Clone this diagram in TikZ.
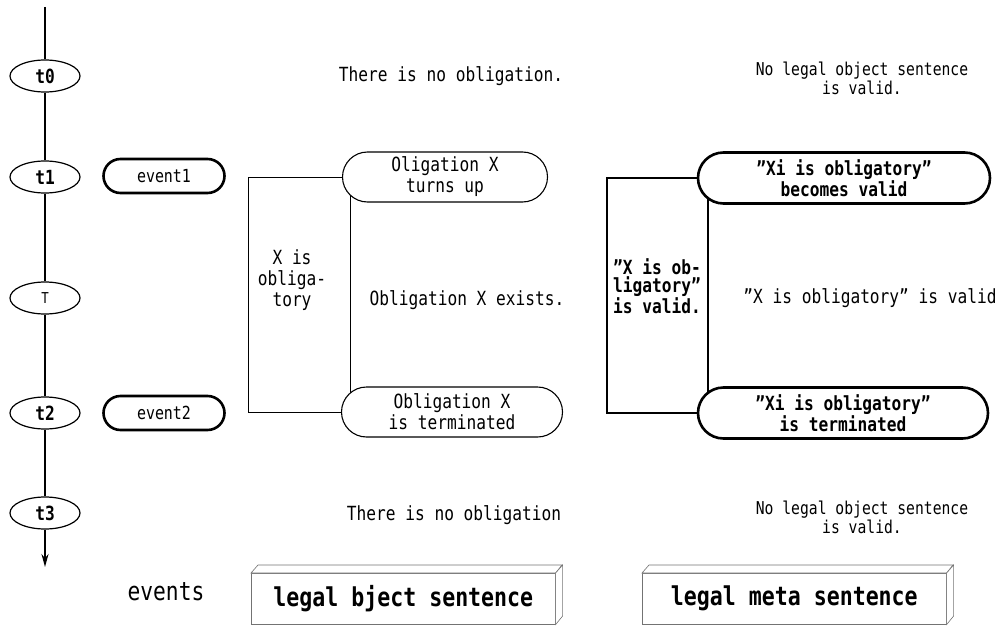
\documentclass[tikz,border=0pt]{standalone}
\usepackage{fontspec}
\setmainfont{DejaVu Sans Mono}[FakeStretch=0.83]
\usetikzlibrary{shapes.geometric,shapes.misc,arrows.meta}

\begin{document}
\begin{tikzpicture}[x=1pt,y=-1pt,
  every node/.style={inner sep=0pt},
  tick/.style={ellipse, draw, line width=1.2pt, fill=white,
    minimum width=70pt, minimum height=32pt,
    font=\fontsize{19.5}{20}\selectfont\bfseries},
  tickplain/.style={tick, font=\fontsize{15}{16}\selectfont},
  axis/.style={line width=1.8pt},
  eventpill/.style={rounded rectangle, draw, line width=2.6pt,
    minimum width=121pt, minimum height=34pt,
    font=\fontsize{18}{18}\selectfont},
  objpill/.style={rounded rectangle, draw, line width=1.1pt, fill=white,
    minimum height=50pt, align=center,
    font=\fontsize{19.5}{21}\selectfont},
  metapill/.style={rounded rectangle, draw, line width=2.6pt, fill=white,
    minimum height=51pt, align=center,
    font=\fontsize{19.5}{18.5}\selectfont\bfseries},
  plainlabel/.style={align=center, font=\fontsize{19.5}{21}\selectfont},
  smalllabel/.style={align=center, font=\fontsize{17.7}{19}\selectfont},
  boldlabel/.style={align=center, font=\fontsize{19.5}{18}\selectfont\bfseries},
  boxfront/.style={draw=black!55, line width=0.6pt, fill=white,
    minimum width=304pt, minimum height=51pt, anchor=north west,
    font=\fontsize{26}{26}\selectfont\bfseries},
  boxface/.style={draw=black!55, line width=0.6pt, fill=white}
]
\useasboundingbox (0,0) rectangle (1001,626);

% time axis
\node[tick] (t0) at (45,76) {t0};
\node[tick] (t1) at (45,177) {t1};
\node[tickplain] (tT) at (45,298) {T};
\node[tick] (t2) at (45,413) {t2};
\node[tick] (t3) at (45,513) {t3};
\coordinate (axtop) at (45,7);
\coordinate (axend) at (45,567);
\draw[axis] (axtop) -- (t0);
\draw[axis] (t0) -- (t1);
\draw[axis] (t1) -- (tT);
\draw[axis] (tT) -- (t2);
\draw[axis] (t2) -- (t3);
\draw[axis, -{Stealth[length=13pt,width=7pt]}] (t3) -- (axend);

% events
\node[eventpill] (ev1) at (164,176) {event1};
\node[eventpill] (ev2) at (164,413) {event2};

% object level
\draw[line width=0.9pt] (248,177) rectangle (350,412);
\node[objpill, minimum width=205pt] (oup) at (445,177) {Oligation X\\turns up};
\node[objpill, minimum width=221pt] (oend) at (452,412) {Obligation X\\is terminated};
\node[plainlabel] (oblig) at (292,280) {X is\\obliga-\\tory};
\node[plainlabel] (exists) at (467,300) {Obligation X exists.};
\node[plainlabel] (noob0) at (451,76) {There is no obligation.};
\node[plainlabel] (noob3) at (454,515) {There is no obligation};

% meta level
\draw[line width=2.6pt] (607,178) rectangle (708,413);
\node[metapill, minimum width=292pt] (mup) at (844,178) {”Xi is obligatory”\\becomes valid};
\node[metapill, minimum width=290pt] (mend) at (843,413) {”Xi is obligatory”\\is terminated};
\node[boldlabel] (valid) at (657,286) {”X is ob-\\ligatory”\\is valid.};
\node[plainlabel] (isvalid) at (870,298) {”X is obligatory” is valid};
\node[smalllabel] (nolegal0) at (862,78) {No legal object sentence\\is valid.};
\node[smalllabel] (nolegal3) at (862,517) {No legal object sentence\\is valid.};

% column captions
\node[font=\fontsize{25.6}{26}\selectfont] (events) at (166,592) {events};
\node[boxfront] (objbox) at (251,573) {legal bject sentence};
\draw[boxface] (objbox.north west) -- ++(7,-8) -- ++(304,0) -- (objbox.north east) -- cycle;
\draw[boxface] (objbox.north east) -- ++(7,-8) -- ++(0,51) -- (objbox.south east) -- cycle;
\node[boxfront] (metabox) at (642,573) {legal meta sentence};
\draw[boxface] (metabox.north west) -- ++(7,-8) -- ++(304,0) -- (metabox.north east) -- cycle;
\draw[boxface] (metabox.north east) -- ++(7,-8) -- ++(0,51) -- (metabox.south east) -- cycle;
\end{tikzpicture}
\end{document}
